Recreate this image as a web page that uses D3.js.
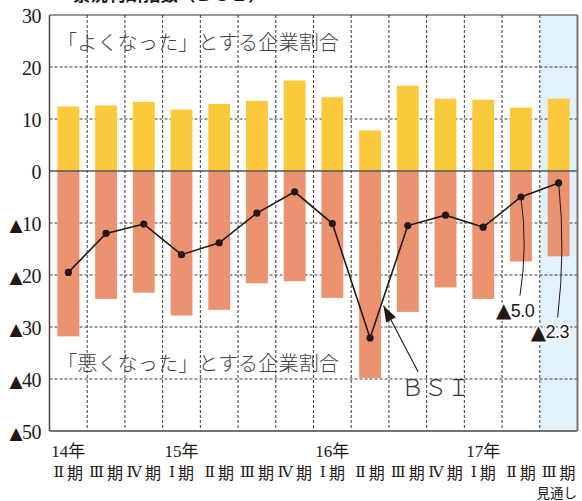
<!DOCTYPE html>
<html>
<head>
<meta charset="utf-8">
<script src="https://cdn.jsdelivr.net/npm/d3@7"></script>
<style>
  html, body { margin: 0; padding: 0; background: #fff; }
  svg { display: block; }
</style>
</head>
<body>
<svg id="chart" width="582" height="501"></svg>
<script>
// ---- data ----
const quarters = ["Ⅱ期","Ⅲ期","Ⅳ期","Ⅰ期","Ⅱ期","Ⅲ期","Ⅳ期","Ⅰ期","Ⅱ期","Ⅲ期","Ⅳ期","Ⅰ期","Ⅱ期","Ⅲ期"];
const yearIndex = [0, 3, 7, 11];
const yearLabels = ["14年", "15年", "16年", "17年"];
const goodShare = [12.4, 12.6, 13.3, 11.8, 12.9, 13.5, 17.4, 14.2, 7.8, 16.4, 13.9, 13.7, 12.2, 13.9];
const badShare  = [-31.8, -24.6, -23.4, -27.8, -26.7, -21.6, -21.2, -24.4, -39.8, -27.1, -22.4, -24.6, -17.4, -16.4];
const bsi       = [-19.5, -12.0, -10.2, -16.1, -13.8, -8.1, -4.0, -10.1, -32.1, -10.5, -8.5, -10.8, -5.0, -2.3];
const yTicks = [30, 20, 10, 0, -10, -20, -30, -40, -50];
const forecastIndex = 13;
const labelledPoints = [12, 13];

(function () {
// ---- layout ----
const svg = d3.select("#chart");
const pLeft = 49.5, pRight = 577.5, pTop = 15, pBottom = 431;
const x = d3.scaleBand().domain(d3.range(quarters.length)).range([pLeft, pRight])
  .paddingInner(0.42).paddingOuter(0.21);
const step = x.step();
const cx = i => x(i) + x.bandwidth() / 2;
const y = d3.scaleLinear().domain([-50, 30]).range([pBottom, pTop]);

const ink = "#231815";
const gridCol = "#3a3a3a";

// title (cropped at top, as in the reference)
svg.append("text").attr("x", 73).attr("y", 0.5)
  .attr("font-family", "'Noto Sans CJK JP'").attr("font-weight", 700)
  .attr("font-size", 17.5).attr("fill", ink)
  .text("景況判断指数（ＢＳＩ）");

// forecast shading
svg.append("rect")
  .attr("x", pLeft + forecastIndex * step).attr("y", pTop)
  .attr("width", step).attr("height", pBottom - pTop)
  .attr("fill", "#e3f1fb");

// horizontal dashed grid
svg.append("g").selectAll("line").data(yTicks.filter(d => d !== 0 && d !== 30 && d !== -50))
  .join("line")
  .attr("x1", pLeft).attr("x2", pRight)
  .attr("y1", d => y(d)).attr("y2", d => y(d))
  .attr("stroke", gridCol).attr("stroke-width", 1).attr("stroke-dasharray", "3,2");

// vertical dashed grid at category boundaries
svg.append("g").selectAll("line").data(d3.range(1, quarters.length))
  .join("line")
  .attr("x1", i => pLeft + i * step).attr("x2", i => pLeft + i * step)
  .attr("y1", pTop).attr("y2", pBottom)
  .attr("stroke", gridCol).attr("stroke-width", 1).attr("stroke-dasharray", "3,2");

// bars
svg.append("g").selectAll("rect").data(goodShare).join("rect")
  .attr("x", (d, i) => x(i)).attr("width", x.bandwidth())
  .attr("y", d => y(d)).attr("height", d => y(0) - y(d))
  .attr("fill", "#fbc93c");
svg.append("g").selectAll("rect").data(badShare).join("rect")
  .attr("x", (d, i) => x(i)).attr("width", x.bandwidth())
  .attr("y", y(0)).attr("height", d => y(d) - y(0))
  .attr("fill", "#eb9370");

// zero line
svg.append("line").attr("x1", pLeft).attr("x2", pRight)
  .attr("y1", y(0)).attr("y2", y(0))
  .attr("stroke", "#555").attr("stroke-width", 1.5);

// frame
svg.append("line").attr("x1", pLeft).attr("x2", pRight).attr("y1", pTop).attr("y2", pTop)
  .attr("stroke", "#333").attr("stroke-width", 1.2);
svg.append("line").attr("x1", pLeft).attr("x2", pRight).attr("y1", pBottom).attr("y2", pBottom)
  .attr("stroke", "#444").attr("stroke-width", 1.5);
svg.append("line").attr("x1", pLeft).attr("x2", pLeft).attr("y1", pTop).attr("y2", pBottom)
  .attr("stroke", "#444").attr("stroke-width", 1.5);
svg.append("line").attr("x1", pRight).attr("x2", pRight).attr("y1", pTop).attr("y2", pBottom)
  .attr("stroke", "#777").attr("stroke-width", 2);

// y tick labels
const yt = svg.append("g").selectAll("text").data(yTicks).join("text")
  .attr("x", 41).attr("y", d => y(d) + 1)
  .attr("text-anchor", "end").attr("dominant-baseline", "central")
  .attr("font-family", "'Liberation Serif', 'DejaVu Serif', serif")
  .attr("font-size", 20).attr("fill", ink).attr("letter-spacing", -0.5);
yt.filter(d => d < 0).append("tspan")
  .attr("font-family", "'DejaVu Sans'").attr("font-size", 17).attr("dy", 1)
  .text("▲");
yt.append("tspan").attr("dy", d => d < 0 ? -1 : 0)
  .text(d => String(Math.abs(d)));

// x labels
svg.append("g").selectAll("text").data(yearLabels).join("text")
  .attr("x", (d, k) => cx(yearIndex[k])).attr("y", 451)
  .attr("text-anchor", "middle").attr("dominant-baseline", "central")
  .attr("font-family", "'Liberation Serif', 'Noto Sans CJK JP', serif")
  .attr("font-size", 17).attr("fill", ink)
  .text(d => d);
const qt = svg.append("g").selectAll("text").data(quarters).join("text")
  .attr("x", (d, i) => cx(i)).attr("y", 471.5)
  .attr("text-anchor", "middle").attr("dominant-baseline", "central")
  .attr("fill", ink);
qt.append("tspan").attr("font-family", "'DejaVu Serif', serif").attr("font-size", 15.5)
  .text(d => d.slice(0, 1));
qt.append("tspan").attr("font-family", "'Noto Sans CJK JP'").attr("font-size", 16).attr("dx", 3)
  .text(d => d.slice(1));
svg.append("text").attr("x", 577).attr("y", 491.5)
  .attr("text-anchor", "end").attr("dominant-baseline", "central")
  .attr("font-family", "'Noto Sans CJK JP'").attr("font-size", 13.5).attr("fill", ink)
  .text("見通し");

// BSI line
const line = d3.line().x((d, i) => cx(i)).y(d => y(d));
svg.append("path").datum(bsi).attr("d", line)
  .attr("fill", "none").attr("stroke", ink).attr("stroke-width", 1.6);
svg.append("g").selectAll("circle").data(bsi).join("circle")
  .attr("cx", (d, i) => cx(i)).attr("cy", d => y(d)).attr("r", 3.6)
  .attr("fill", ink);

// series labels
svg.append("text").attr("x", 57).attr("y", 41)
  .attr("dominant-baseline", "central")
  .attr("font-family", "'Noto Sans CJK JP'").attr("font-weight", 300)
  .attr("font-size", 20.2).attr("fill", "#444")
  .text("「よくなった」とする企業割合");
svg.append("text").attr("x", 57).attr("y", 362)
  .attr("dominant-baseline", "central")
  .attr("font-family", "'Noto Sans CJK JP'").attr("font-weight", 300)
  .attr("font-size", 20.2).attr("fill", "#444")
  .text("「悪くなった」とする企業割合");

// BSI arrow annotation
const arrowTip = [cx(8) + 13.5, y(-25.9)];
const arrowTail = [cx(8) + 48, y(-38.6)];
svg.append("line")
  .attr("x1", arrowTail[0]).attr("y1", arrowTail[1])
  .attr("x2", arrowTip[0]).attr("y2", arrowTip[1])
  .attr("stroke", ink).attr("stroke-width", 1.1);
{
  const ang = Math.atan2(arrowTip[1] - arrowTail[1], arrowTip[0] - arrowTail[0]);
  const L = 16, W = 5.5;
  const bx = arrowTip[0] - L * Math.cos(ang), by = arrowTip[1] - L * Math.sin(ang);
  const px = -Math.sin(ang) * W, py = Math.cos(ang) * W;
  svg.append("path")
    .attr("d", `M${arrowTip[0]},${arrowTip[1]}L${bx + px},${by + py}L${bx - px},${by - py}Z`)
    .attr("fill", ink);
}
svg.append("text").attr("x", 401).attr("y", 396)
  .attr("font-family", "'Noto Sans CJK JP'").attr("font-weight", 300)
  .attr("font-size", 23).attr("fill", "#333")
  .text("ＢＳＩ");

// value callouts for the last two points
const calloutEnd = { 12: -24.0, 13: -28.2 };
labelledPoints.forEach(i => {
  const x0 = cx(i), y0 = y(bsi[i]);
  const y1 = y(calloutEnd[i]);
  svg.append("path")
    .attr("d", `M${x0},${y0}Q${x0 + 7},${(y0 + y1) / 2} ${x0 - 1},${y1}`)
    .attr("fill", "none").attr("stroke", ink).attr("stroke-width", 1);
});
const calloutText = [
  { i: 12, dx: -25, v: -28.0 },
  { i: 13, dx: -28, v: -32.2 }
];
const ct = svg.append("g").selectAll("text").data(calloutText).join("text")
  .attr("x", d => cx(d.i) + d.dx).attr("y", d => y(d.v))
  .attr("font-family", "'Liberation Sans', 'DejaVu Sans', sans-serif")
  .attr("font-size", 18).attr("fill", ink).attr("letter-spacing", -0.5)
  .attr("stroke", "#fff").attr("stroke-width", 3).attr("paint-order", "stroke");
ct.append("tspan").attr("font-family", "'DejaVu Sans'").attr("font-size", 20).attr("dy", 0.5)
  .text("▲");
ct.append("tspan").attr("dy", -0.5)
  .text(d => (-bsi[d.i]).toFixed(1));
})();
</script>
</body>
</html>
